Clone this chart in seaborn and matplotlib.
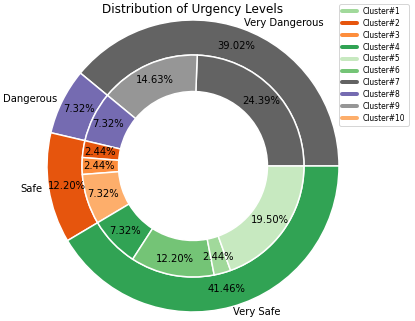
import matplotlib
matplotlib.use("Agg")
import matplotlib.pyplot as plt
from matplotlib.lines import Line2D
import seaborn as sns

# urgency levels (outer ring)
levels = ['Very Dangerous', 'Dangerous', 'Safe', 'Very Safe']
level_pct = [39.02, 7.32, 12.20, 41.46]
level_colors = ['#636363', '#756bb1', '#e6550d', '#31a354']

# clusters (inner ring), in drawing order
inner_clusters = ['Cluster#7', 'Cluster#9', 'Cluster#8', 'Cluster#2', 'Cluster#3',
                  'Cluster#10', 'Cluster#4', 'Cluster#6', 'Cluster#1', 'Cluster#5']
inner_pct = [24.39, 14.63, 7.32, 2.44, 2.44, 7.32, 7.32, 12.20, 2.44, 19.50]

cluster_colors = {
    'Cluster#1': '#a1d99b', 'Cluster#2': '#e6550d', 'Cluster#3': '#fd8d3c',
    'Cluster#4': '#31a354', 'Cluster#5': '#c7e9c0', 'Cluster#6': '#74c476',
    'Cluster#7': '#636363', 'Cluster#8': '#756bb1', 'Cluster#9': '#969696',
    'Cluster#10': '#fdae6b',
}
legend_names = ['Cluster#%d' % i for i in range(1, 11)]

sns.set_style("white")
plt.rcParams['font.family'] = ['DejaVu Sans']
plt.rcParams['text.color'] = 'black'

W, H, DPI = 415, 321, 72
fig = plt.figure(figsize=(W / DPI, H / DPI), dpi=DPI)

# place the pie: centre (193, 166) px, outer radius 146 px
cx, cy, rpx = 193, 166, 146
side = 2.5 * rpx
ax = fig.add_axes([(cx - side / 2) / W, (H - cy - side / 2) / H, side / W, side / H])

ax.pie(level_pct, labels=levels, colors=level_colors, radius=1.0,
       startangle=0, autopct='%.2f%%', pctdistance=0.875, labeldistance=1.04,
       wedgeprops=dict(width=0.24, edgecolor='white', linewidth=1.5),
       textprops=dict(fontsize=10, color='black'))

ax.pie(inner_pct, colors=[cluster_colors[c] for c in inner_clusters], radius=0.76,
       startangle=0, autopct='%.2f%%', pctdistance=0.85,
       wedgeprops=dict(width=0.25, edgecolor='white', linewidth=1.5),
       textprops=dict(fontsize=10, color='black'))

ax.set_xlim(-1.25, 1.25)
ax.set_ylim(-1.25, 1.25)
ax.set_aspect('equal')

fig.text(cx / W, 1 - 10 / H, 'Distribution of Urgency Levels', ha='center', va='center',
         fontsize=12, color='black')

handles = [Line2D([0], [0], color=cluster_colors[n], lw=4) for n in legend_names]
leg = fig.legend(handles, legend_names, loc='upper left', bbox_to_anchor=(339 / W, 1 - 4 / H),
                 fontsize=7.5, frameon=True, borderaxespad=0, labelspacing=0.38)
for t in leg.get_texts():
    t.set_color('black')

fig.savefig('out.png', dpi=DPI)
